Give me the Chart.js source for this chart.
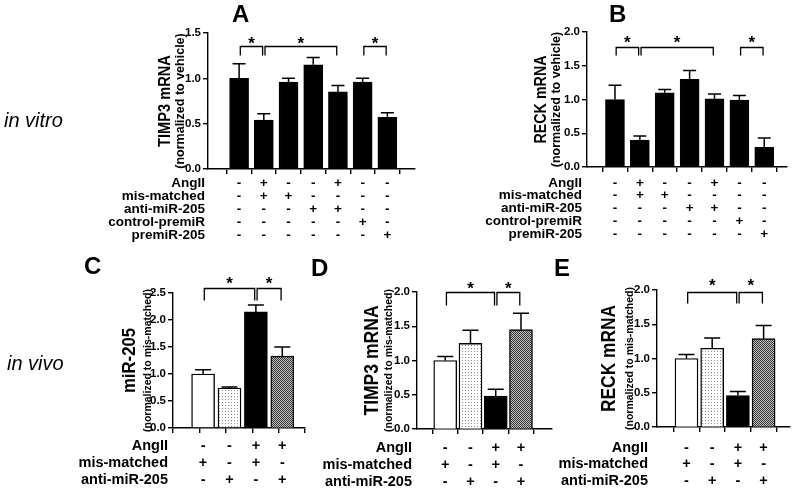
<!DOCTYPE html>
<html>
<head>
<meta charset="utf-8">
<script src="https://cdn.jsdelivr.net/npm/chart.js@4.4.0/dist/chart.umd.min.js"></script>
<style>
html, body { margin: 0; padding: 0; background: #fff; }
#wrap { position: relative; width: 800px; height: 492px; overflow: hidden; }
#wrap canvas { position: absolute; left: 0; top: 0; }
.gp-txt { position: absolute; font-family: "Liberation Sans", Arial, sans-serif; color: #000; line-height: 1; white-space: nowrap; }
.gp-letter { font-size: 24px; font-weight: bold; }
.gp-side { font-size: 20px; font-style: italic; }
</style>
</head>
<body>
<div id="wrap">
    <canvas id="cA" width="800" height="492"></canvas>
    <canvas id="cB" width="800" height="492"></canvas>
    <canvas id="cC" width="800" height="492"></canvas>
    <canvas id="cD" width="800" height="492"></canvas>
    <canvas id="cE" width="800" height="492"></canvas>
    <div class="gp-txt gp-letter" style="left:232px;top:2px;">A</div>
    <div class="gp-txt gp-letter" style="left:609px;top:2px;">B</div>
    <div class="gp-txt gp-letter" style="left:84px;top:254px;">C</div>
    <div class="gp-txt gp-letter" style="left:311px;top:256px;">D</div>
    <div class="gp-txt gp-letter" style="left:554px;top:256px;">E</div>
    <div class="gp-txt gp-side" style="left:4px;top:110px;">in vitro</div>
    <div class="gp-txt gp-side" style="left:7px;top:353px;">in vivo</div>
</div>
<script>
'use strict';

// treatment table rows
var vitroRows = ['AngII', 'mis-matched', 'anti-miR-205', 'control-premiR', 'premiR-205'];
var vitroSigns = [
    ['-', '+', '-', '-', '+', '-', '-'],
    ['-', '+', '+', '-', '-', '-', '-'],
    ['-', '-', '-', '+', '+', '-', '-'],
    ['-', '-', '-', '-', '-', '+', '-'],
    ['-', '-', '-', '-', '-', '-', '+']
];
var vivoRows = ['AngII', 'mis-matched', 'anti-miR-205'];
var vivoSigns = [
    ['-', '-', '+', '+'],
    ['+', '-', '+', '-'],
    ['-', '+', '-', '+']
];

// means and SEM (upper error only)
var timp3VitroMean = [1.00, 0.54, 0.96, 1.15, 0.85, 0.96, 0.57];
var timp3VitroSem = [0.16, 0.07, 0.04, 0.08, 0.07, 0.04, 0.05];
var reckVitroMean = [1.00, 0.40, 1.10, 1.30, 1.01, 0.99, 0.29];
var reckVitroSem = [0.21, 0.06, 0.05, 0.13, 0.07, 0.07, 0.14];
var mir205VivoMean = [1.00, 0.74, 2.15, 1.33];
var mir205VivoSem = [0.08, 0.02, 0.13, 0.17];
var timp3VivoMean = [1.00, 1.25, 0.48, 1.45];
var timp3VivoSem = [0.06, 0.19, 0.10, 0.24];
var reckVivoMean = [1.00, 1.15, 0.46, 1.29];
var reckVivoSem = [0.06, 0.15, 0.06, 0.19];

// significance brackets (bar index pairs)
var vitroBrackets = [[0, 1], [1, 4], [5, 6]];
var vivoBrackets = [[0, 2], [2, 3]];

var gpFont = '"Liberation Sans", Arial, sans-serif';
var gpPanels = {};

function gpDots() {
    var c = document.createElement('canvas');
    c.width = 3; c.height = 3;
    var g = c.getContext('2d');
    g.fillStyle = '#fff'; g.fillRect(0, 0, 3, 3);
    g.fillStyle = '#8c8c8c'; g.fillRect(0, 0, 1, 1);
    return g.createPattern(c, 'repeat');
}

function gpHatch() {
    var c = document.createElement('canvas');
    c.width = 2; c.height = 2;
    var g = c.getContext('2d');
    g.fillStyle = '#bdbdbd'; g.fillRect(0, 0, 2, 2);
    g.fillStyle = '#3a3a3a'; g.fillRect(0, 0, 1, 1); g.fillRect(1, 1, 1, 1);
    return g.createPattern(c, 'repeat');
}

var gpAnnotate = {
    id: 'gpAnnotate',
    afterDatasetsDraw: function (chart) {
        var o = gpPanels[chart.canvas.id];
        if (!o) return;
        var ctx = chart.ctx, xs = chart.scales.x, ys = chart.scales.y, area = chart.chartArea;
        ctx.save();
        ctx.strokeStyle = '#000';
        ctx.fillStyle = '#000';
        ctx.lineWidth = 1.5;

        // error bars
        o.mean.forEach(function (m, i) {
            var px = xs.getPixelForValue(i);
            var y0 = ys.getPixelForValue(m);
            var y1 = ys.getPixelForValue(m + o.sem[i]);
            ctx.beginPath();
            ctx.moveTo(px, y0); ctx.lineTo(px, y1);
            ctx.moveTo(px - o.capW / 2, y1); ctx.lineTo(px + o.capW / 2, y1);
            ctx.stroke();
        });

        // brackets + stars
        var by = Math.round(ys.getPixelForValue(o.bracketLevel)) + 0.5;
        ctx.lineWidth = 1.3;
        o.brackets.forEach(function (b) {
            var x1 = xs.getPixelForValue(b[0]) + 1.2, x2 = xs.getPixelForValue(b[1]) - 1.2;
            ctx.beginPath();
            ctx.moveTo(x1, by + o.legPx); ctx.lineTo(x1, by); ctx.lineTo(x2, by); ctx.lineTo(x2, by + o.legPx);
            ctx.stroke();
            ctx.font = 'bold 17px ' + gpFont;
            ctx.textAlign = 'center';
            ctx.textBaseline = 'alphabetic';
            ctx.fillText('*', (x1 + x2) / 2, by + o.starDy);
        });

        // treatment table
        ctx.textBaseline = 'middle';
        o.rows.forEach(function (name, r) {
            var ty = o.rowY[r];
            ctx.font = 'bold ' + o.rowFont + 'px ' + gpFont;
            ctx.textAlign = 'right';
            ctx.fillText(name, o.labelX, ty);
            ctx.textAlign = 'center';
            o.signs[r].forEach(function (s, i) {
                ctx.fillText(s, xs.getPixelForValue(i), ty);
            });
        });

        // axis titles (main title is a little condensed, like the original)
        var cy = (area.top + area.bottom) / 2;
        ctx.translate(area.left - o.titleOff, cy);
        ctx.rotate(-Math.PI / 2);
        ctx.textAlign = 'center';
        ctx.textBaseline = 'middle';
        ctx.font = 'bold ' + o.subSize + 'px ' + gpFont;
        ctx.fillText(o.sub, 0, o.titleOff - o.subOff);
        ctx.scale(o.titleSqueeze, 1);
        ctx.font = 'bold ' + o.titleSize + 'px ' + gpFont;
        ctx.fillText(o.title, 0, 0);
        ctx.restore();
    }
};

function gpChart(canvasId, cfg) {
    var Y_W = 40, X_H = 8;
    gpPanels[canvasId] = cfg;
    var pts = cfg.mean.map(function (v, i) { return { x: i, y: v }; });
    var axisLine = { color: '#000', width: 1.4 };
    var gridTicks = { drawOnChartArea: false, tickLength: 5, color: '#000', lineWidth: 1.4 };
    return new Chart(document.getElementById(canvasId), {
        type: 'bar',
        data: {
            datasets: [{
                data: pts,
                backgroundColor: cfg.fills,
                borderColor: '#000',
                borderWidth: 1.4,
                barThickness: cfg.barW
            }]
        },
        options: {
            responsive: false,
            animation: false,
            devicePixelRatio: 1,
            layout: {
                padding: {
                    left: cfg.axisX - Y_W,
                    top: cfg.top,
                    right: 800 - cfg.right,
                    bottom: 492 - cfg.bottom - X_H
                }
            },
            plugins: { legend: { display: false }, tooltip: { enabled: false } },
            scales: {
                x: {
                    type: 'linear',
                    min: cfg.xMin,
                    max: cfg.xMax,
                    afterFit: function (s) { s.height = X_H; },
                    ticks: { display: false, stepSize: 1, includeBounds: false },
                    grid: gridTicks,
                    border: axisLine
                },
                y: {
                    min: 0,
                    max: cfg.yMax,
                    afterFit: function (s) { s.width = Y_W; },
                    ticks: {
                        stepSize: 0.5,
                        color: '#000',
                        padding: 2,
                        font: { family: gpFont, weight: 'bold', size: 11.5 },
                        callback: function (v) { return Number(v).toFixed(1); }
                    },
                    grid: gridTicks,
                    border: axisLine
                }
            }
        },
        plugins: [gpAnnotate]
    });
}

var vitroFill = '#000';
var vivoFills = ['#fff', gpDots(), '#000', gpHatch()];

gpChart('cA', {
    mean: timp3VitroMean, sem: timp3VitroSem, fills: vitroFill,
    rows: vitroRows, signs: vitroSigns, rowY: [183, 196, 209, 222, 235], rowFont: 13.5, labelX: 205,
    axisX: 208, top: 33, bottom: 169, right: 415, xMin: -0.66, xMax: 6.52, yMax: 1.5,
    barW: 19, capW: 13,
    brackets: vitroBrackets, bracketLevel: 1.36, legPx: 9, starDy: 2,
    title: 'TIMP3 mRNA', titleSize: 17, titleSqueeze: 0.86, titleOff: 43,
    sub: '(normalized to vehicle)', subSize: 12.5, subOff: 27
});

gpChart('cB', {
    mean: reckVitroMean, sem: reckVitroSem, fills: vitroFill,
    rows: vitroRows, signs: vitroSigns, rowY: [183, 195, 208, 221, 234], rowFont: 13.5, labelX: 582,
    axisX: 587, top: 32, bottom: 167, right: 787, xMin: -0.55, xMax: 6.34, yMax: 2,
    barW: 19, capW: 13,
    brackets: vitroBrackets, bracketLevel: 1.78, legPx: 8, starDy: 0,
    title: 'RECK mRNA', titleSize: 17, titleSqueeze: 0.84, titleOff: 46,
    sub: '(normalized to vehicle)', subSize: 12.5, subOff: 30
});

gpChart('cC', {
    mean: mir205VivoMean, sem: mir205VivoSem, fills: vivoFills,
    rows: vivoRows, signs: vivoSigns, rowY: [446, 463, 480], rowFont: 14.5, labelX: 168,
    axisX: 173, top: 293, bottom: 428, right: 305, xMin: -0.64, xMax: 3.36, yMax: 2.5,
    barW: 23, capW: 16,
    brackets: vivoBrackets, bracketLevel: 2.59, legPx: 12, starDy: 0,
    title: 'miR-205', titleSize: 19, titleSqueeze: 0.88, titleOff: 43,
    sub: '(normalized to mis-matched)', subSize: 10.5, subOff: 25
});

gpChart('cD', {
    mean: timp3VivoMean, sem: timp3VivoSem, fills: vivoFills,
    rows: vivoRows, signs: vivoSigns, rowY: [448, 465, 482], rowFont: 14.5, labelX: 412,
    axisX: 417, top: 292, bottom: 429, right: 552, xMin: -0.45, xMax: 3.56, yMax: 2,
    barW: 23, capW: 16,
    brackets: vivoBrackets, bracketLevel: 2.0, legPx: 13, starDy: 1,
    title: 'TIMP3 mRNA', titleSize: 19.5, titleSqueeze: 0.9, titleOff: 44,
    sub: '(normalized to mis-matched)', subSize: 10.5, subOff: 28
});

gpChart('cE', {
    mean: reckVivoMean, sem: reckVivoSem, fills: vivoFills,
    rows: vivoRows, signs: vivoSigns, rowY: [448, 464, 481], rowFont: 14.5, labelX: 648,
    axisX: 657, top: 290, bottom: 427, right: 790, xMin: -0.5, xMax: 3.38, yMax: 2,
    barW: 23, capW: 16,
    brackets: vivoBrackets, bracketLevel: 1.97, legPx: 11, starDy: -2,
    title: 'RECK mRNA', titleSize: 19.5, titleSqueeze: 0.89, titleOff: 47,
    sub: '(normalized to mis-matched)', subSize: 10.5, subOff: 27
});
</script>
</body>
</html>
